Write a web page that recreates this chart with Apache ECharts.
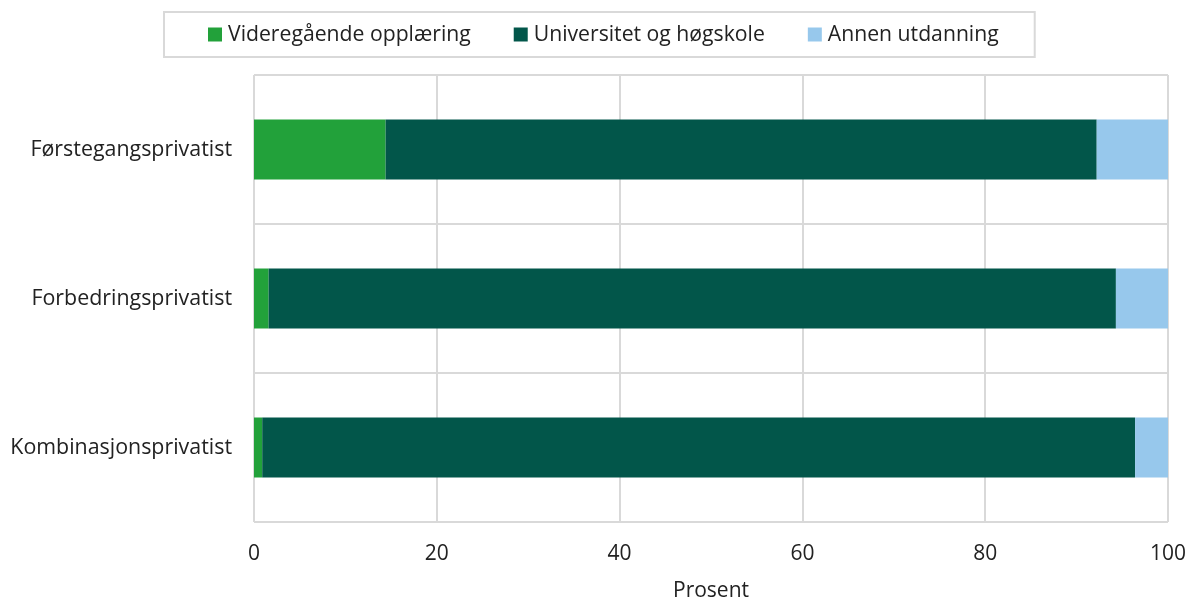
<!DOCTYPE html>
<html>
<head>
<meta charset="utf-8">
<script src="https://cdn.jsdelivr.net/npm/echarts@6/dist/echarts.min.js"></script>
<style>
  html, body { margin: 0; padding: 0; background: #fff; }
  #chart { width: 1189px; height: 600px; }
</style>
</head>
<body>
<div id="chart"></div>
<script>
// kategorier (ovenfra og ned)
const categories = ['Førstegangsprivatist', 'Forbedringsprivatist', 'Kombinasjonsprivatist'];
// prosentandeler per utdanning
const videregaende = [14.4, 1.6, 0.9];
const universitet = [77.8, 92.7, 95.5];
const annen = [7.8, 5.7, 3.6];
const seriesNames = ['Videregående opplæring', 'Universitet og høgskole', 'Annen utdanning'];
const colors = ['#22a13a', '#02564a', '#97c8ec'];

const chart = echarts.init(document.getElementById('chart'));
const font = '"Open Sans", "Noto Sans", sans-serif';

chart.setOption({
  textStyle: { fontFamily: font },
  legend: {
    top: 12,
    left: 164,
    padding: [12, 36, 12, 44],
    borderColor: '#d9d9d9',
    borderWidth: 2,
    itemWidth: 14,
    itemHeight: 14,
    itemGap: 43,
    icon: 'rect',
    textStyle: { fontSize: 21.2, color: '#222', fontFamily: font, padding: [0, 0, 0, 1] },
    data: seriesNames
  },
  grid: { left: 254, right: 21, top: 75, bottom: 78, outerBoundsMode: 'none' },
  xAxis: {
    type: 'value',
    min: 0,
    max: 100,
    interval: 20,
    name: 'Prosent',
    nameLocation: 'middle',
    nameGap: 59,
    nameTextStyle: { fontSize: 21, color: '#222' },
    axisLine: { show: false },
    axisTick: { show: false },
    axisLabel: { fontSize: 21, color: '#222', margin: 22 },
    splitLine: { lineStyle: { color: '#d9d9d9', width: 2 } }
  },
  yAxis: {
    type: 'category',
    inverse: true,
    data: categories,
    axisLine: { show: false },
    axisTick: { show: false },
    axisLabel: { fontSize: 21.4, color: '#222', margin: 22 },
    splitLine: { show: true, lineStyle: { color: '#d9d9d9', width: 2 } }
  },
  series: [
    { name: seriesNames[0], type: 'bar', stack: 'total', barWidth: 60, itemStyle: { color: colors[0] }, data: videregaende },
    { name: seriesNames[1], type: 'bar', stack: 'total', barWidth: 60, itemStyle: { color: colors[1] }, data: universitet },
    { name: seriesNames[2], type: 'bar', stack: 'total', barWidth: 60, itemStyle: { color: colors[2] }, data: annen }
  ]
});
</script>
</body>
</html>
